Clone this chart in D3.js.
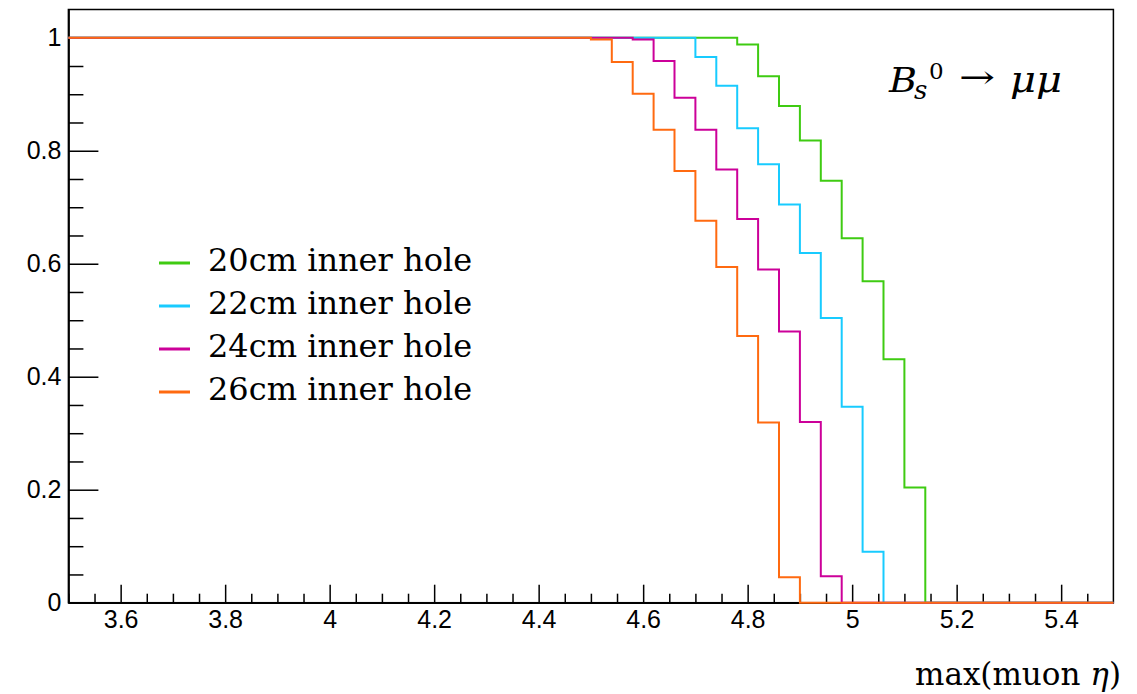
<!DOCTYPE html>
<html>
<head>
<meta charset="utf-8">
<script src="https://cdn.jsdelivr.net/npm/d3@7"></script>
<style>
body { margin: 0; background: #fff; }
</style>
</head>
<body>
<div id="main"></div>
<script>
// histogram binning: 50 bins of 0.04 between 3.5 and 5.5
const xMin = 3.5, xMax = 5.5, binWidth = 0.04;

const seriesNames = ['20cm inner hole', '22cm inner hole', '24cm inner hole', '26cm inner hole'];
const seriesColors = ['#3fcb12', '#18cbff', '#cc0099', '#ff6a10'];

// bin contents (fraction of events)
const hole20 = [1,1,1,1,1,1,1,1,1,1, 1,1,1,1,1,1,1,1,1,1, 1,1,1,1,1,1,1,1,1,1,
                1,1,0.988,0.932,0.879,0.818,0.747,0.645,0.569,0.431, 0.204,0,0,0,0,0,0,0,0,0];
const hole22 = [1,1,1,1,1,1,1,1,1,1, 1,1,1,1,1,1,1,1,1,1, 1,1,1,1,1,1,1,1,1,1,
                0.966,0.915,0.840,0.776,0.705,0.619,0.504,0.347,0.090,0, 0,0,0,0,0,0,0,0,0,0];
const hole24 = [1,1,1,1,1,1,1,1,1,1, 1,1,1,1,1,1,1,1,1,1, 1,1,1,1,1,1,1,0.997,0.959,0.894,
                0.837,0.767,0.679,0.590,0.480,0.320,0.047,0,0,0, 0,0,0,0,0,0,0,0,0,0];
const hole26 = [1,1,1,1,1,1,1,1,1,1, 1,1,1,1,1,1,1,1,1,1, 1,1,1,1,1,0.997,0.957,0.901,0.837,0.764,
                0.676,0.594,0.472,0.319,0.045,0,0,0,0,0, 0,0,0,0,0,0,0,0,0,0];
const seriesValues = [hole20, hole22, hole24, hole26];

const xMajor = [3.6, 3.8, 4, 4.2, 4.4, 4.6, 4.8, 5, 5.2, 5.4];
const yMajor = [0, 0.2, 0.4, 0.6, 0.8, 1];

const width = 1137, height = 694;

let svg = d3.select('#main')
    .append('svg')
        .attr('width', width)
        .attr('height', height)
        .style('font-family', '"Liberation Sans", Arial, sans-serif');

const x = d3.scaleLinear().domain([xMin, xMax]).range([68.4, 1113.4]);
const y = d3.scaleLinear().domain([0, 1.05]).range([602.7, 9.5]);

// minor ticks every 0.05
const xMinor = d3.range(70).map(i => 3.5 + i * 0.05).filter(v => v < xMax - 1e-6 && !xMajor.some(m => Math.abs(m - v) < 1e-6));
const yMinor = d3.range(21).map(i => i * 0.05).filter(v => !yMajor.some(m => Math.abs(m - v) < 1e-6));

// frame
svg.append('rect')
    .attr('x', x(xMin)).attr('y', y(1.05))
    .attr('width', x(xMax) - x(xMin)).attr('height', y(0) - y(1.05))
    .attr('fill', 'none').attr('stroke', '#000').attr('stroke-width', 1.5);

// axes
const fmt = d3.format('~g');
svg.append('g').attr('transform', `translate(0,${y(0)})`)
    .call(d3.axisBottom(x).tickValues(xMajor).tickFormat(fmt).tickSizeInner(-18).tickSizeOuter(0).tickPadding(8));
svg.append('g').attr('transform', `translate(0,${y(0)})`)
    .call(d3.axisBottom(x).tickValues(xMinor).tickFormat('').tickSizeInner(-9).tickSizeOuter(0));
svg.append('g').attr('transform', `translate(${x(xMin)},0)`)
    .call(d3.axisLeft(y).tickValues(yMajor).tickFormat(fmt).tickSizeInner(-30).tickSizeOuter(0).tickPadding(7));
svg.append('g').attr('transform', `translate(${x(xMin)},0)`)
    .call(d3.axisLeft(y).tickValues(yMinor).tickFormat('').tickSizeInner(-15).tickSizeOuter(0));

svg.selectAll('.domain').attr('stroke-width', 1.5);
svg.selectAll('.tick line').attr('stroke-width', 1.5);
svg.selectAll('.tick text').attr('font-size', 25).attr('fill', '#000')
    .attr('font-family', '"Liberation Sans", Arial, sans-serif');

// histograms drawn as step outlines
const edges = d3.range(hole20.length + 1).map(i => xMin + i * binWidth);
const stepLine = d3.line()
    .x(d => x(d[0]))
    .y(d => y(d[1]))
    .curve(d3.curveStepAfter);

svg.selectAll('.hist')
    .data(seriesValues)
    .enter()
    .append('path')
        .attr('class', 'hist')
        .attr('d', vals => stepLine(vals.map((v, i) => [edges[i], v]).concat([[xMax, vals[vals.length - 1]]])))
        .attr('fill', 'none')
        .attr('stroke', (d, i) => seriesColors[i])
        .attr('stroke-width', 2);

// legend
const legend = svg.append('g').attr('font-family', '"DejaVu Serif", Georgia, serif');
seriesNames.forEach((name, i) => {
    const ly = 263 + i * 43;
    legend.append('line')
        .attr('x1', 159).attr('x2', 190).attr('y1', ly).attr('y2', ly)
        .attr('stroke', seriesColors[i]).attr('stroke-width', 3);
    legend.append('text')
        .attr('x', 208).attr('y', ly + 8)
        .attr('font-size', 32)
        .text(name);
});

// decay label
const lab = svg.append('g').attr('font-family', '"DejaVu Serif", Georgia, serif').attr('fill', '#000');
lab.append('text').attr('x', 889).attr('y', 92).attr('font-size', 33).attr('font-style', 'italic')
    .attr('textLength', 28).attr('lengthAdjust', 'spacingAndGlyphs').text('B');
lab.append('text').attr('x', 914).attr('y', 99).attr('font-size', 26).attr('font-style', 'italic').text('s');
lab.append('text').attr('x', 929).attr('y', 79).attr('font-size', 23).text('0');
lab.append('text').attr('x', 959).attr('y', 88).attr('font-size', 32)
    .attr('textLength', 36).attr('lengthAdjust', 'spacingAndGlyphs').text('→');
lab.append('text').attr('x', 1010).attr('y', 92).attr('font-size', 35).attr('font-style', 'italic')
    .attr('textLength', 52).attr('lengthAdjust', 'spacingAndGlyphs').text('μμ');

// x axis title
const title = svg.append('text')
    .attr('x', 1121).attr('y', 685)
    .attr('text-anchor', 'end')
    .attr('font-family', '"DejaVu Serif", Georgia, serif')
    .attr('font-size', 31);
title.append('tspan').text('max(muon ');
title.append('tspan').attr('font-style', 'italic').text('η');
title.append('tspan').text(')');
</script>
</body>
</html>
